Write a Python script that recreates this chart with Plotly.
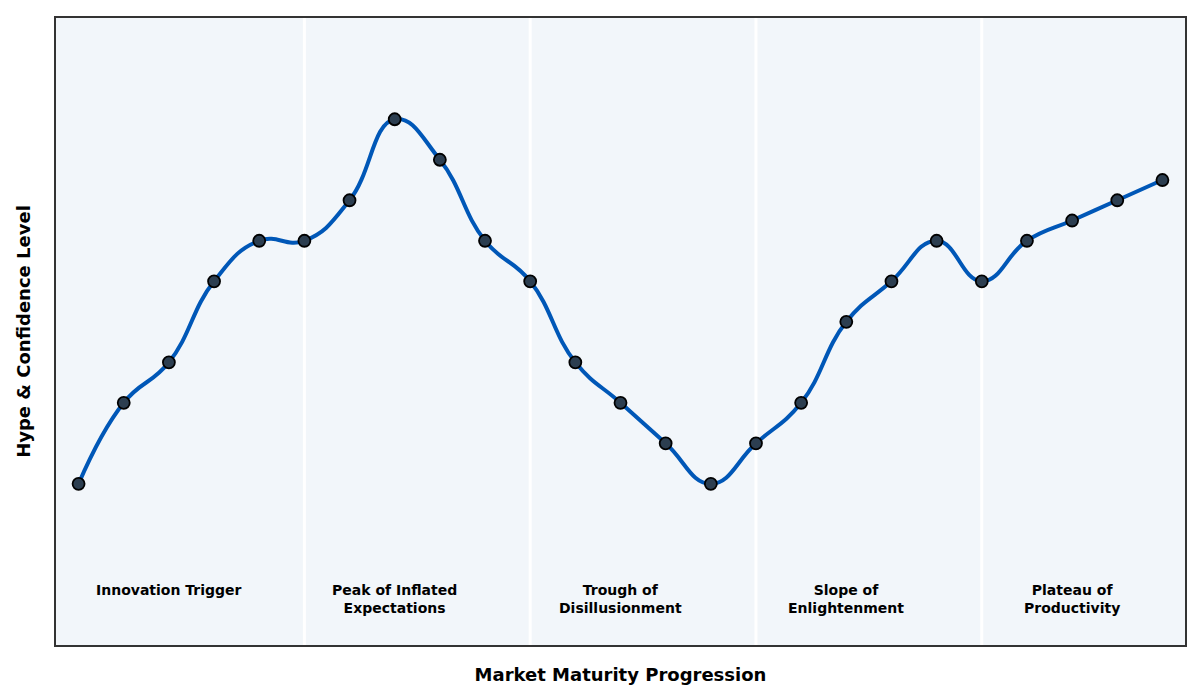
import plotly.graph_objects as go

# stage index along the cycle and the hype level
steps = list(range(25))
hype = [1, 3, 4, 6, 7, 7, 8, 10, 9, 7, 6, 4, 3, 2, 1, 2, 3, 5, 6, 7, 6, 7, 7.5, 8, 8.5]

phase_names = ["Innovation Trigger", "Peak of Inflated<br>Expectations",
               "Trough of<br>Disillusionment", "Slope of<br>Enlightenment",
               "Plateau of<br>Productivity"]
phase_label_x = [2, 7, 12, 17, 22]
phase_bounds = [5, 10, 15, 20]

fig = go.Figure()
fig.add_trace(go.Scatter(
    x=steps,
    y=hype,
    mode="lines+markers",
    line=dict(color="#0057b7", width=4, shape="spline", smoothing=1.3),
    marker=dict(size=12, color="#2c3e50", line=dict(color="#000000", width=1.8)),
    showlegend=False,
))

for b in phase_bounds:
    fig.add_vline(x=b, line=dict(color="white", width=3), layer="below")

for name, px in zip(phase_names, phase_label_x):
    fig.add_annotation(
        x=px, y=0.103, xref="x", yref="paper",
        text="<b>" + name + "</b>", showarrow=False, yanchor="top",
        font=dict(size=14, color="#000000", family="DejaVu Sans"),
    )

# page body adds ~8px offset, margins compensate so the frame sits like the original
fig.update_layout(
    width=1200, height=700,
    margin=dict(l=48, r=23, t=8, b=63),
    paper_bgcolor="white",
    plot_bgcolor="#f2f6fa",
    font=dict(family="DejaVu Sans"),
    xaxis=dict(
        range=[-0.5, 24.5], showticklabels=False, showgrid=False, zeroline=False,
        showline=True, mirror=True, linecolor="#333333", linewidth=2, ticks="",
        title=dict(text="<b>Market Maturity Progression</b>", font=dict(size=18, color="#000000"),
                   standoff=22),
    ),
    yaxis=dict(
        range=[-2.98, 12.5], showticklabels=False, showgrid=False, zeroline=False,
        showline=True, mirror=True, linecolor="#333333", linewidth=2, ticks="",
        title=dict(text="<b>Hype & Confidence Level</b>", font=dict(size=18, color="#000000"),
                   standoff=19),
    ),
)

fig.write_html("out.html")
